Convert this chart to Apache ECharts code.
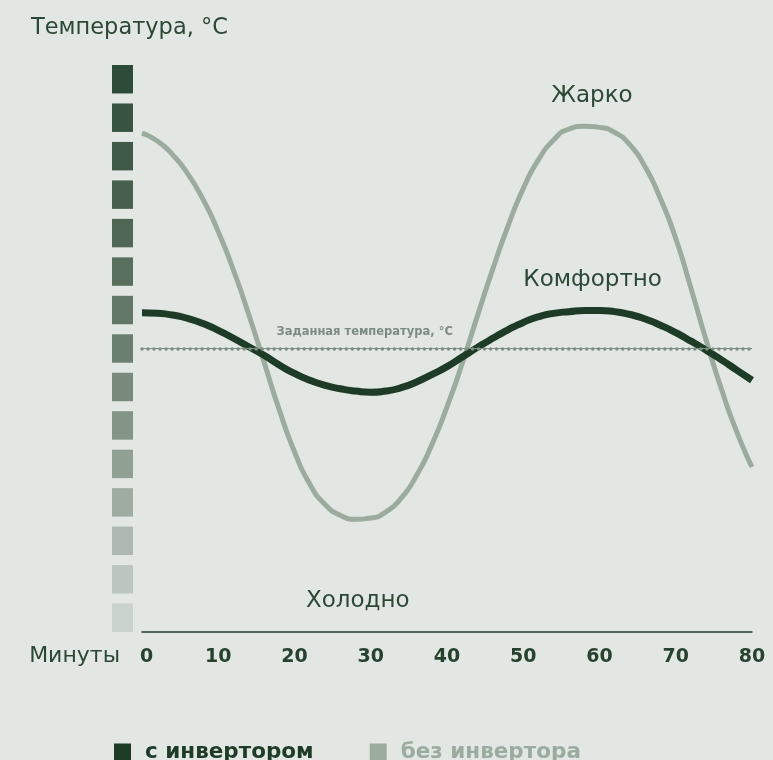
<!DOCTYPE html>
<html>
<head>
<meta charset="utf-8">
<script src="https://cdn.jsdelivr.net/npm/echarts@6/dist/echarts.min.js"></script>
<style>
  html, body { margin: 0; padding: 0; background: #e2e7e3; }
  #chart { width: 773px; height: 760px; }
</style>
</head>
<body>
<div id="chart"></div>
<script>
// readings from the picture, every 2 minutes: relative temperature (0 = bottom of scale, 100 = top)
const minutes = [0, 2, 4, 6, 8, 10, 12, 14, 16, 18, 20, 22, 24, 26, 28, 30, 32, 34, 36, 38, 40,
  42, 44, 46, 48, 50, 52, 54, 56, 58, 60, 62, 64, 66, 68, 70, 72, 74, 76, 78, 80];

const withInverter = [56.3, 56.2, 55.9, 55.3, 54.4, 53.2, 51.8, 50.3, 48.8, 47.1, 45.6, 44.4,
  43.5, 42.9, 42.5, 42.3, 42.5, 43.1, 44.1, 45.4, 46.8, 48.5, 50.2, 51.8, 53.3, 54.6, 55.6,
  56.2, 56.5, 56.7, 56.7, 56.5, 56.0, 55.2, 54.1, 52.8, 51.3, 49.7, 48.0, 46.2, 44.4];

const withoutInverter = [88.0, 86.6, 84.2, 80.8, 76.3, 70.6, 63.8, 56.0, 47.6, 39.2, 31.8, 26.1,
  22.5, 20.6, 19.9, 20.1, 21.2, 23.6, 27.6, 33.0, 39.7, 47.4, 55.8, 64.0, 71.6, 78.2, 83.3,
  86.8, 88.7, 89.2, 89.0, 88.1, 85.9, 82.0, 76.4, 69.4, 60.6, 51.4, 42.8, 35.3, 29.1];

const setpoint = 50;
const xTicks = [0, 10, 20, 30, 40, 50, 60, 70, 80];

// temperature scale squares, top (hot) to bottom (cold)
const scaleColors = ['#2e4b39', '#385440', '#3f5a46', '#475f4d', '#4f6754', '#586f5d',
  '#627767', '#6b7f70', '#778a7b', '#839586', '#90a093', '#9faca1', '#adb9b0', '#bcc6bf', '#c9d2cc'];

// text annotations: [minute, level, text]
const hotNote = [59, 94.5, 'Жарко'];
const comfortNote = [59.1, 62, 'Комфортно'];
const coldNote = [28.3, 5.5, 'Холодно'];
const setpointNote = [29.2, setpoint, 'Заданная температура, °C'];

const DARK = '#1d3b26';
const LIGHT = '#9bac9e';
const TEXT = '#2c4834';
const FONT = '"DejaVu Sans", sans-serif';

const pairs = (xs, ys) => xs.map((m, i) => [m, ys[i]]);

const note = (n, size, color, weight, dy) => ({
  coord: [n[0], n[1]],
  symbolSize: 0,
  label: {
    show: true, position: 'inside', formatter: n[2], offset: [0, dy || 0],
    color: color, fontSize: size, fontWeight: weight, fontFamily: FONT
  }
});

const chart = echarts.init(document.getElementById('chart'), null, { renderer: 'canvas' });

chart.setOption({
  animation: false,
  backgroundColor: '#e2e7e3',
  title: {
    text: 'Температура, °C',
    left: 26, top: 12,
    textStyle: { color: TEXT, fontSize: 22.5, fontWeight: 'normal', fontFamily: FONT }
  },
  legend: {
    top: 736, left: 109,
    icon: 'rect', itemWidth: 17, itemHeight: 17, itemGap: 56,
    textStyle: { fontSize: 21.5, fontWeight: 'bold', fontFamily: FONT, padding: [0, 0, 0, 9] },
    data: [
      { name: 'с инвертором', itemStyle: { color: DARK }, textStyle: { color: DARK } },
      { name: 'без инвертора', itemStyle: { color: LIGHT }, textStyle: { color: LIGHT } }
    ]
  },
  grid: [
    { left: 142, right: 21, top: 65, bottom: 128 },
    { left: 112, width: 21, top: 60, height: 577 }
  ],
  xAxis: [
    {
      gridIndex: 0, type: 'value', min: 0, max: 80, interval: 10,
      name: 'Минуты', nameLocation: 'start', nameGap: 22,
      nameTextStyle: { color: TEXT, fontSize: 22, fontFamily: FONT, verticalAlign: 'top', padding: [13, 0, 0, 0] },
      axisLine: { lineStyle: { color: DARK, width: 1.5 } },
      axisTick: { show: false },
      splitLine: { show: false },
      axisLabel: {
        color: '#27432f', fontSize: 19, fontWeight: 'bold', fontFamily: FONT, margin: 16,
        customValues: xTicks,
        formatter: v => (v === 0 ? '{first|0}' : String(v)),
        rich: { first: { color: '#27432f', fontSize: 19, fontWeight: 'bold', fontFamily: FONT, padding: [0, 0, 0, 9] } }
      }
    },
    { gridIndex: 1, type: 'value', min: 0, max: 1, show: false }
  ],
  yAxis: [
    { gridIndex: 0, type: 'value', min: 0, max: 100, show: false },
    { gridIndex: 1, type: 'category', inverse: true, show: false,
      data: scaleColors.map((c, i) => i) }
  ],
  series: [
    {
      type: 'bar', xAxisIndex: 1, yAxisIndex: 1, barCategoryGap: '26%', silent: true,
      data: scaleColors.map(c => ({ value: 1, itemStyle: { color: c } }))
    },
    {
      name: 'без инвертора', type: 'line', smooth: 0.6, showSymbol: false,
      data: pairs(minutes, withoutInverter),
      lineStyle: { color: LIGHT, width: 5 },
      itemStyle: { color: LIGHT },
      markPoint: {
        silent: true,
        data: [note(hotNote, 23, TEXT, 'normal'), note(coldNote, 23, TEXT, 'normal')]
      }
    },
    {
      name: 'с инвертором', type: 'line', smooth: 0.6, showSymbol: false,
      data: pairs(minutes, withInverter),
      lineStyle: { color: DARK, width: 7 },
      itemStyle: { color: DARK },
      markLine: {
        silent: true, symbol: 'none', label: { show: false },
        data: [
          { yAxis: setpoint, lineStyle: { color: '#7d8d81', width: 1, type: 'solid' } },
          { yAxis: setpoint, lineStyle: { color: '#7d8d81', width: 3.5, type: [0.01, 6], cap: 'round' } }
        ]
      },
      markPoint: {
        silent: true,
        data: [
          note(comfortNote, 23, TEXT, 'normal'),
          note(setpointNote, 11.5, '#7d8c81', 'bold', -16)
        ]
      }
    }
  ]
});
</script>
</body>
</html>
